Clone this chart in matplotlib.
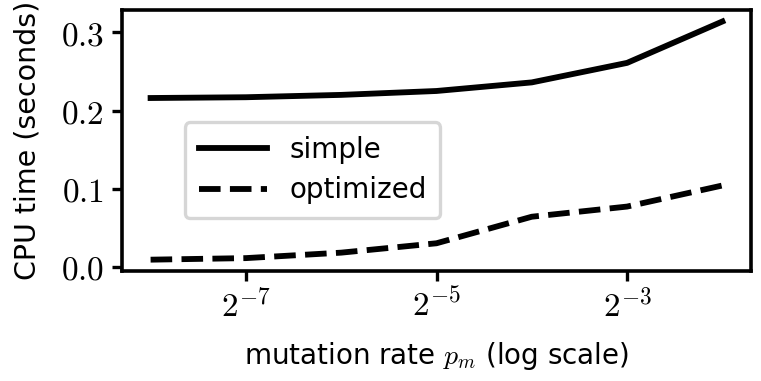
import numpy as np
import matplotlib
matplotlib.use("Agg")
from matplotlib import pyplot as plt
from matplotlib.ticker import FixedLocator, FuncFormatter, NullLocator

plt.rcParams['mathtext.fontset'] = 'cm'
plt.rcParams['font.family'] = ['DejaVu Sans']

# mutation rate exponents (base 2)
exponents = [-8, -7, -6, -5, -4, -3, -2]
simple_time = [0.216, 0.217, 0.220, 0.225, 0.236, 0.261, 0.314]
optimized_time = [0.009, 0.011, 0.018, 0.030, 0.064, 0.077, 0.104]
xtick_exps = [-7, -5, -3]
ytick_vals = [0.0, 0.1, 0.2, 0.3]

rates = [2.0 ** e for e in exponents]

fig = plt.figure(figsize=(7.61, 3.81), dpi=100)
ax = fig.add_axes([122 / 761, 110 / 381, 629 / 761, 261 / 381])

ax.plot(rates, simple_time, color='black', lw=4.2, ls='-', label='simple')
ax.plot(rates, optimized_time, color='black', lw=4.2, ls='--', label='optimized')

ax.set_xscale('log', base=2)
ax.xaxis.set_major_locator(FixedLocator([2.0 ** e for e in xtick_exps]))
ax.xaxis.set_minor_locator(NullLocator())
ax.xaxis.set_major_formatter(FuncFormatter(lambda v, p: r'$2^{%d}$' % round(np.log2(v))))
ax.yaxis.set_major_locator(FixedLocator(ytick_vals))
ax.yaxis.set_major_formatter(FuncFormatter(lambda v, p: r'$%.1f$' % v))

ax.set_xlim(2.0 ** -8.3, 2.0 ** -1.7)
ax.set_ylim(-0.0055, 0.3287)

for s in ax.spines.values():
    s.set_linewidth(2.6)
ax.tick_params(axis='both', which='major', length=7, width=2.4, labelsize=24, pad=6)

ax.set_xlabel(r'mutation rate $p_m$ (log scale)', fontsize=20, labelpad=12)
ax.set_ylabel('CPU time (seconds)', fontsize=20.5, labelpad=14)

leg = ax.legend(loc='upper left', bbox_to_anchor=(0.1, 0.571), fontsize=20,
                handlelength=2.45, borderpad=0.5, labelspacing=0.45,
                handletextpad=0.8, borderaxespad=0, fancybox=True)
leg.get_frame().set_edgecolor('#cccccc')
leg.get_frame().set_linewidth(2.4)

fig.savefig('out.png', dpi=100)
